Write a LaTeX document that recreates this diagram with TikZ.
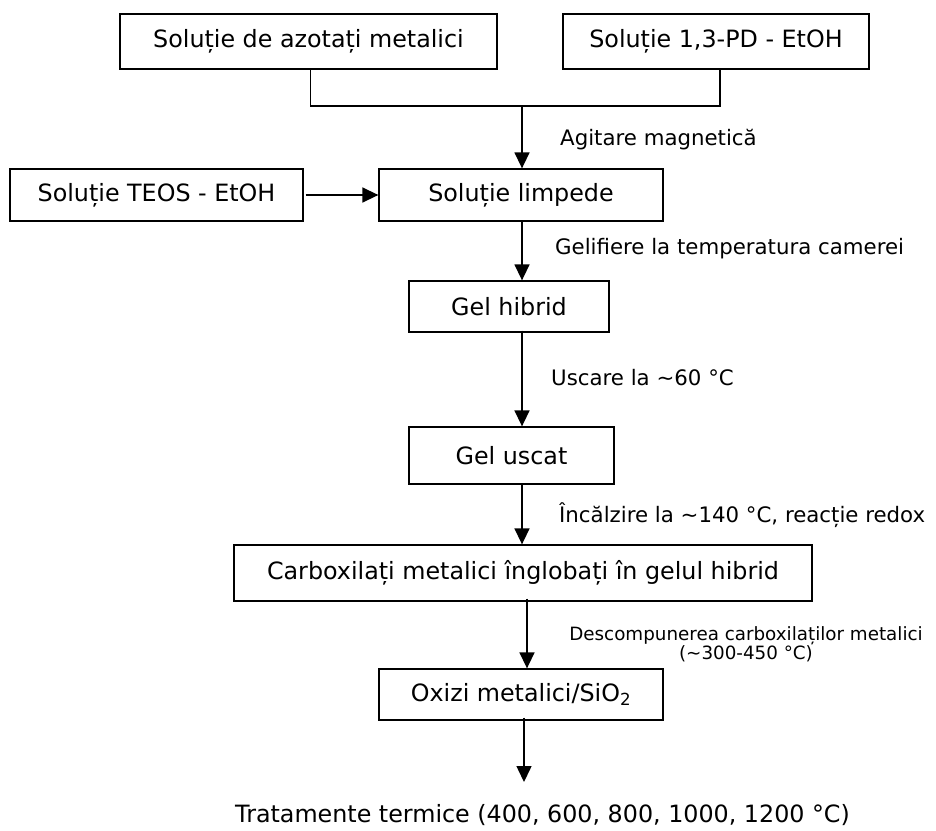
\documentclass[tikz,border=0pt]{standalone}
\usepackage{fontspec}
\setmainfont{DejaVu Sans}
\usetikzlibrary{arrows.meta}

\begin{document}
\begin{tikzpicture}[x=1pt,y=-1pt,
  stepbox/.style={draw,line width=1.3pt,inner sep=0pt,align=center,
    font=\fontsize{23.8}{28}\selectfont},
  lbl/.style={anchor=west,inner sep=0pt,font=\fontsize{21.3}{25}\selectfont},
  flow/.style={line width=1.5pt,-{Triangle[length=16pt,width=15pt]}},
  link/.style={line width=1.3pt}]
  \useasboundingbox (0,0) rectangle (936,830);

  % boxes
  \node[stepbox,minimum width=377pt,minimum height=55pt] (azot) at (308.5,41.5) {Soluție de azotați metalici};
  \node[stepbox,minimum width=306pt,minimum height=55pt] (pd) at (716,41.5) {Soluție 1,3-PD - EtOH};
  \node[stepbox,minimum width=293pt,minimum height=52pt] (teos) at (156.5,195) {Soluție TEOS - EtOH};
  \node[stepbox,minimum width=284pt,minimum height=52pt] (limp) at (521,195) {Soluție limpede};
  \node[stepbox,minimum width=200pt,minimum height=51pt] (gelh) at (509,306.5) {Gel hibrid};
  \node[stepbox,minimum width=205pt,minimum height=57pt] (gelu) at (511.5,455.5) {Gel uscat};
  \node[stepbox,minimum width=578pt,minimum height=56pt] (carb) at (523,573) {Carboxilați metalici înglobați în gelul hibrid};
  \node[stepbox,minimum width=284pt,minimum height=51pt] (oxi) at (521,694.5) {Oxizi metalici/SiO\textsubscript{2}};
  \node[anchor=west,inner sep=0pt,font=\fontsize{23.8}{28}\selectfont] (trat) at (235,815) {Tratamente termice (400, 600, 800, 1000, 1200 °C)};

  % merging the two solutions
  \coordinate (j) at (522,106);
  \draw[link] ([xshift=2pt]azot.south) |- (j) -| ([xshift=4pt]pd.south);
  \draw[flow] (j) -- (j |- limp.north);
  \draw[flow] ([xshift=2pt]teos.east) -- (limp.west);

  % main sequence
  \draw[flow] ([xshift=1pt,yshift=1pt]limp.south) -- ([xshift=1pt]limp.south |- gelh.north);
  \draw[flow] ([xshift=13pt,yshift=2pt]gelh.south) -- ([xshift=13pt]gelh.south |- gelu.north);
  \draw[flow] ([xshift=10.5pt,yshift=1pt]gelu.south) -- ([xshift=10.5pt]gelu.south |- carb.north);
  \draw[flow] ([xshift=4pt,yshift=3pt]carb.south) -- ([xshift=4pt]carb.south |- oxi.north);
  \coordinate (end) at (524,782);
  \draw[flow] ([xshift=3pt,yshift=3pt]oxi.south) -- (end);

  % step labels
  \node[lbl] (l1) at (560,140) {Agitare magnetică};
  \node[lbl] (l2) at (555,249) {Gelifiere la temperatura camerei};
  \node[lbl] (l3) at (551,378) {Uscare la \textasciitilde60 °C};
  \node[lbl] (l4) at (559,515) {Încălzire la \textasciitilde140 °C, reacție redox};
  \node[inner sep=0pt,align=center,font=\fontsize{18.3}{19}\selectfont] (l5) at (746,644)
    {Descompunerea carboxilaților metalici\\(\textasciitilde300-450 °C)};
\end{tikzpicture}
\end{document}
